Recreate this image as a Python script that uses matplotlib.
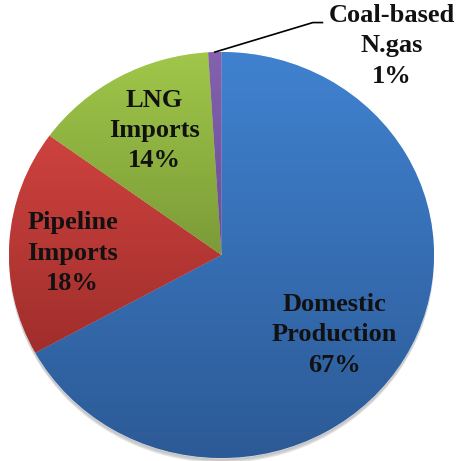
import matplotlib
matplotlib.use("Agg")
import matplotlib.pyplot as plt
import numpy as np
from matplotlib.colors import LinearSegmentedColormap
from matplotlib.patches import Ellipse

# データ
labels = ["Domestic\nProduction", "Pipeline\nImports", "LNG\nImports", "Coal-based\nN.gas"]
shares = [67, 18, 14, 1]
top_colors = ["#4082D0", "#CE423E", "#A0C74A", "#8462AE"]
bottom_colors = ["#2C5A96", "#A02E2C", "#7B9B37", "#6A4C94"]

plt.rcParams["font.family"] = "serif"
plt.rcParams["font.serif"] = ["Liberation Serif", "DejaVu Serif"]

fig = plt.figure(figsize=(4.59, 4.61), dpi=100)
ax = fig.add_axes([9 / 459, 3 / 461, 425 / 459, 406 / 461])

# 影
for i, a in enumerate([0.06, 0.08, 0.1]):
    ax.add_patch(Ellipse((0, -0.012 - i * 0.006), 2.0, 2.0, facecolor="black",
                         alpha=a, edgecolor="none", zorder=0, clip_on=False))

wedges, _ = ax.pie(shares, startangle=90, counterclock=False, radius=1,
                   colors=top_colors,
                   wedgeprops=dict(linewidth=0.6, edgecolor=(1, 1, 1, 0.6)))

# グラデーション
grad = np.linspace(0, 1, 256).reshape(-1, 1)
for w, c1, c2 in zip(wedges, top_colors, bottom_colors):
    ys = w.get_path().vertices[:, 1]
    cmap = LinearSegmentedColormap.from_list("g", [c2, c1])
    im = ax.imshow(grad, cmap=cmap, extent=(-1, 1, ys.min(), ys.max()),
                   origin="lower", aspect="auto", zorder=w.get_zorder() + 0.1)
    im.set_clip_path(w)

ax.set_aspect("auto")
ax.set_xlim(-1, 1)
ax.set_ylim(-1, 1)
ax.axis("off")

font = dict(fontsize=19, fontweight="bold", color="#111111", linespacing=1.4,
            family="Liberation Serif")

# ラベル（半径と角度のずらし）
dist = [0.66, 0.70, 0.69]
shift = [-6, 2.8, -1.4]
for w, lab, s, r, d in zip(wedges[:3], labels[:3], shares[:3], dist, shift):
    th = np.deg2rad((w.theta1 + w.theta2) / 2 + d)
    ax.text(r * np.cos(th), r * np.sin(th), f"{lab}\n{s}%", ha="center", va="center",
            zorder=5, **font)

# 石炭ラベル（引き出し線つき）
w = wedges[3]
th = np.deg2rad((w.theta1 + w.theta2) / 2)
x0, y0 = np.cos(th), np.sin(th)
ax.plot([x0, 0.43, 0.475], [y0, 1.145, 1.145], color="black", lw=1.2,
        clip_on=False, zorder=6)
ax.text(0.80, 1.03, f"{labels[3]}\n{shares[3]}%", ha="center", va="center",
        clip_on=False, zorder=6, **font)

fig.savefig("out.png", dpi=100)
